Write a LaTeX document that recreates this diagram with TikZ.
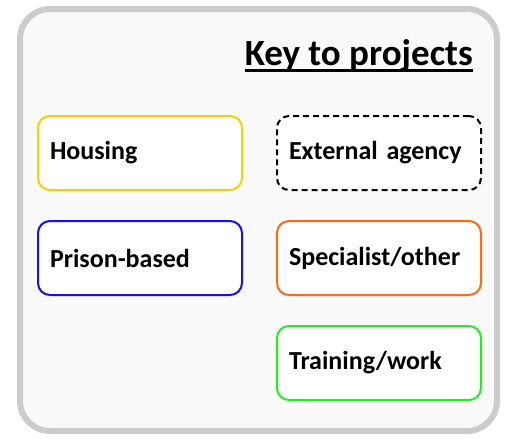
\documentclass[tikz,border=0pt]{standalone}
\usepackage{fontspec}
\setmainfont{Carlito}
\usetikzlibrary{positioning}
\definecolor{framegray}{HTML}{CCCCCC}
\definecolor{framefill}{HTML}{F9F9F9}
\definecolor{housingcol}{HTML}{FFCC00}
\definecolor{prisoncol}{HTML}{1010FF}
\definecolor{specialcol}{HTML}{FF6A10}
\definecolor{trainingcol}{HTML}{22EE22}
\tikzset {
  key frame/.style = {
    draw = framegray,
    fill = framefill,
    line width = 6pt,
    rounded corners = 30pt
  },
  % heading of the key
  key title/.style = {
    inner sep = 0,
    font = \fontsize{37}{42}\selectfont\bfseries
  },
  % one entry of the key
  key box/.style = {
    draw = black,
    fill = white,
    rectangle,
    rounded corners = 12pt,
    line width = 2pt,
    minimum height = 74pt,
    text width = 180pt,
    inner xsep = 12pt,
    align = left,
    font = \fontsize{26}{30}\selectfont\bfseries
  },
  housing/.style = {
    key box,
    draw = housingcol
  },
  prison/.style = {
    key box,
    draw = prisoncol
  },
  external/.style = {
    key box,
    dashed,
    dash pattern = on 6pt off 4pt
  },
  special/.style = {
    key box,
    draw = specialcol
  },
  training/.style = {
    key box,
    draw = trainingcol
  },
  node distance = 29pt and 33pt
}

\begin{document}
\begin{tikzpicture}[x=1pt,y=-1pt]
    \useasboundingbox (0,0) rectangle (509,439);
    \draw[key frame] (20,9) rectangle (497,431);

    \node[key title, anchor=base east] (title) at (473,65) {Key to projects};
    \draw[line width=3pt] ([yshift=-5pt]title.base west) -- ([yshift=-5pt]title.base east);

    \node[housing, anchor=north west] (housing) at (37,115) {Housing};
    \node[prison] (prison) [below=of housing] {Prison-based};
    \node[external] (external) [right=of housing] {External agency};
    \node[special] (special) [below=of external] {Specialist/other};
    \node[training] (training) [below=of special] {Training/work};
  \end{tikzpicture}
\end{document}
